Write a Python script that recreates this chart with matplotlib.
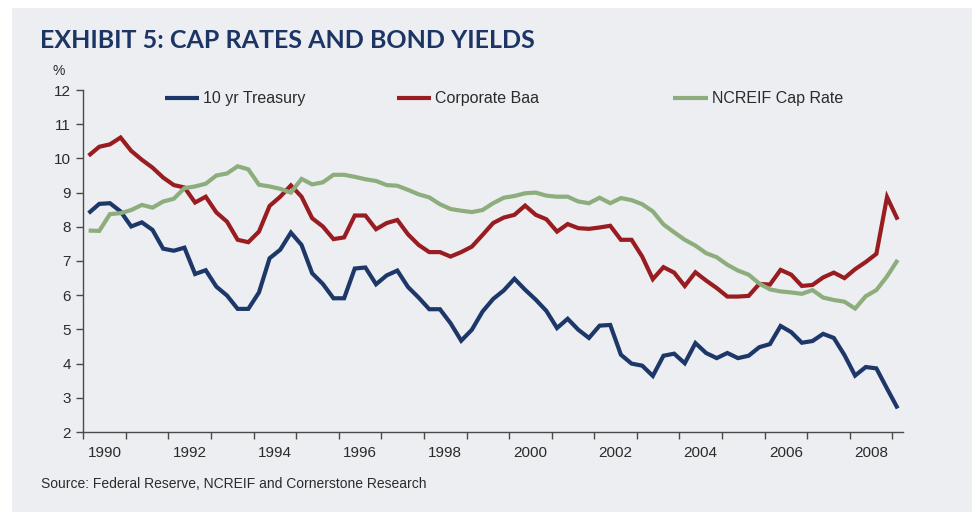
import matplotlib

matplotlib.use("Agg")
import matplotlib.pyplot as plt
from matplotlib.lines import Line2D
from matplotlib.patches import Rectangle


YEARS = list(range(1990, 2009, 2))

TREASURY_10YR = [
    8.40, 8.67, 8.69, 8.45, 8.01, 8.13, 7.91, 7.36, 7.30, 7.39,
    6.62, 6.73, 6.25, 5.99, 5.60, 5.60, 6.08, 7.08, 7.33, 7.83,
    7.47, 6.64, 6.33, 5.91, 5.91, 6.78, 6.81, 6.32, 6.58, 6.72,
    6.24, 5.93, 5.59, 5.59, 5.18, 4.67, 4.99, 5.52, 5.89, 6.14,
    6.48, 6.16, 5.87, 5.54, 5.04, 5.31, 4.99, 4.75, 5.11, 5.13,
    4.26, 4.00, 3.94, 3.64, 4.23, 4.29, 4.01, 4.60, 4.31, 4.16,
    4.31, 4.16, 4.23, 4.48, 4.57, 5.10, 4.92, 4.61, 4.66, 4.87,
    4.75, 4.25, 3.65, 3.90, 3.86, 3.27, 2.69,
]

CORPORATE_BAA = [
    10.08, 10.34, 10.41, 10.61, 10.22, 9.96, 9.73, 9.44, 9.22, 9.15,
    8.71, 8.88, 8.42, 8.15, 7.62, 7.55, 7.86, 8.61, 8.88, 9.21,
    8.88, 8.25, 8.01, 7.64, 7.69, 8.33, 8.33, 7.93, 8.11, 8.20,
    7.78, 7.47, 7.26, 7.26, 7.13, 7.26, 7.42, 7.76, 8.11, 8.27,
    8.35, 8.62, 8.35, 8.22, 7.86, 8.08, 7.96, 7.94, 7.98, 8.03,
    7.62, 7.62, 7.13, 6.47, 6.82, 6.66, 6.27, 6.67, 6.43, 6.21,
    5.96, 5.96, 5.98, 6.33, 6.31, 6.74, 6.60, 6.27, 6.30, 6.52,
    6.66, 6.50, 6.76, 6.97, 7.21, 8.87, 8.21,
]

NCREIF_CAP_RATE = [
    7.89, 7.88, 8.37, 8.40, 8.49, 8.64, 8.56, 8.74, 8.82, 9.13,
    9.18, 9.26, 9.50, 9.56, 9.77, 9.68, 9.23, 9.18, 9.11, 9.00,
    9.40, 9.24, 9.30, 9.52, 9.52, 9.46, 9.39, 9.34, 9.22, 9.20,
    9.08, 8.95, 8.86, 8.66, 8.52, 8.47, 8.43, 8.49, 8.69, 8.85,
    8.90, 8.98, 9.00, 8.91, 8.88, 8.88, 8.74, 8.69, 8.85, 8.69,
    8.84, 8.78, 8.66, 8.45, 8.07, 7.84, 7.62, 7.45, 7.23, 7.11,
    6.89, 6.72, 6.60, 6.34, 6.17, 6.11, 6.08, 6.04, 6.15, 5.93,
    5.86, 5.81, 5.61, 5.97, 6.15, 6.55, 7.03,
]

SERIES = [
    ("10 yr Treasury", TREASURY_10YR, "#1d3769"),
    ("Corporate Baa", CORPORATE_BAA, "#981c20"),
    ("NCREIF Cap Rate", NCREIF_CAP_RATE, "#8dae7c"),
]

PANEL_COLOR = "#eceef2"
TITLE_COLOR = "#1c3565"
TEXT_COLOR = "#2b2b2b"
AXIS_COLOR = "#4a4a4a"
SANS = ["Liberation Sans", "DejaVu Sans"]


def draw_chart() -> None:
    fig = plt.figure(figsize=(9.72, 5.12), dpi=100)
    fig.patch.set_facecolor("white")
    W, H = 972, 512

    # grey card behind everything
    fig.add_artist(Rectangle((12 / W, 0), 1, 1 - 8 / H, transform=fig.transFigure,
                             facecolor=PANEL_COLOR, edgecolor="none", zorder=-10))

    fig.text(40 / W, 1 - 48 / H, "EXHIBIT 5: CAP RATES AND BOND YIELDS",
             fontsize=18, fontweight="bold", color=TITLE_COLOR,
             family=["Lato", "DejaVu Sans"], va="baseline")

    ax = fig.add_axes([83.3 / W, 1 - 432 / H, (903 - 83.3) / W, (432 - 90) / H])
    ax.set_facecolor("none")

    n = len(TREASURY_10YR)
    xs = [i + 0.5 for i in range(n)]
    for label, values, color in SERIES:
        ax.plot(xs, values, color=color, linewidth=3.0, solid_joinstyle="miter",
                solid_capstyle="butt", label=label)

    ax.set_xlim(0, n)
    ax.set_ylim(2, 12)
    ax.set_yticks(range(2, 13))
    ax.set_xticks(range(0, n, 4))
    ax.set_xticklabels([])
    # year labels sit in the middle of each labelled year, Excel category style
    ax.set_xticks([(y - 1990) * 4 + 2 for y in YEARS], minor=True)
    ax.set_xticklabels([str(y) for y in YEARS], minor=True)

    for side in ("top", "right"):
        ax.spines[side].set_visible(False)
    for side in ("left", "bottom"):
        ax.spines[side].set_color(AXIS_COLOR)
        ax.spines[side].set_linewidth(1.0)

    ax.tick_params(axis="y", which="major", direction="out", length=5, width=1,
                   color=AXIS_COLOR, labelcolor=TEXT_COLOR, labelsize=11, pad=4)
    ax.tick_params(axis="x", which="major", direction="out", length=5, width=1,
                   color=AXIS_COLOR)
    ax.tick_params(axis="x", which="minor", length=0, labelcolor=TEXT_COLOR,
                   labelsize=11, pad=10)
    for lbl in ax.get_yticklabels() + ax.get_xticklabels(minor=True):
        lbl.set_family(SANS)

    fig.text(52 / W, 1 - 75 / H, "%", fontsize=10, color=TEXT_COLOR,
             family=SANS, va="baseline")

    # legend keys laid out like the original, spread across the top
    key_spots = [(165, 199), (397, 431), (673, 708)]
    for (x0, x1), (label, _, color) in zip(key_spots, SERIES):
        fig.add_artist(Line2D([x0 / W, x1 / W], [1 - 98 / H] * 2, color=color,
                              linewidth=3.0, solid_capstyle="butt",
                              transform=fig.transFigure))
        fig.text((x1 + 4) / W, 1 - 98 / H, label, fontsize=11.5, color=TEXT_COLOR,
                 family=SANS, va="center")

    fig.text(41 / W, 1 - 488 / H, "Source: Federal Reserve, NCREIF and Cornerstone Research",
             fontsize=10, color=TEXT_COLOR, family=SANS, va="baseline")

    fig.savefig("out.png", dpi=100, facecolor=fig.get_facecolor())
    plt.close(fig)


def main() -> None:
    draw_chart()


if __name__ == "__main__":
    main()
